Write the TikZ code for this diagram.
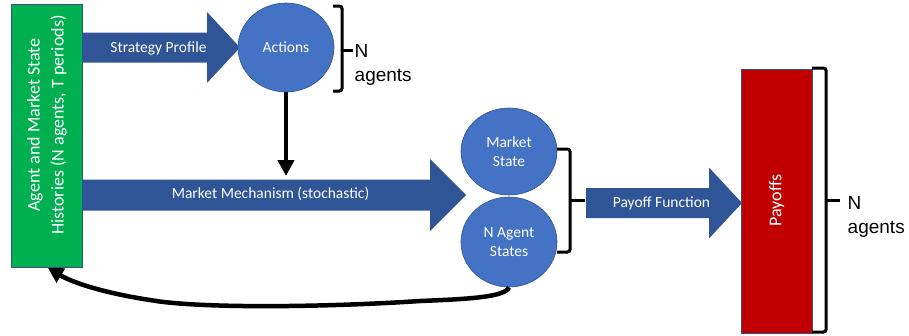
\documentclass[tikz,border=0pt]{standalone}
\usepackage{fontspec}
\setmainfont{Carlito}
\newfontfamily\arialfont{Liberation Sans}
\usetikzlibrary{shapes.geometric,arrows.meta}
\definecolor{histgreen}{HTML}{00B050}
\definecolor{payred}{HTML}{C00000}
\definecolor{flowblue}{HTML}{2F5597}
\definecolor{stateblue}{HTML}{4472C4}
\definecolor{edgeblue}{HTML}{2F528F}
% block arrow: tail x, head-base x, tip x, centre y, half body, half head
\newcommand\blockarrow[6]{%
  \fill[flowblue] (#1,#4-#5) -- (#2,#4-#5) -- (#2,#4-#6) -- (#3,#4)
    -- (#2,#4+#6) -- (#2,#4+#5) -- (#1,#4+#5) -- cycle;}
\begin{document}
\begin{tikzpicture}[x=1pt,y=-1pt,
  lbl/.style={text=white,font=\fontsize{15.5}{18}\selectfont,inner sep=0pt},
  state/.style={ellipse,fill=stateblue,draw=edgeblue,line width=0.6pt,
    inner sep=0pt,align=center,text=white,font=\fontsize{15.5}{19}\selectfont},
  panel/.style={draw=edgeblue,line width=0.6pt,inner sep=0pt},
  brace/.style={line width=3pt,rounded corners=2.5pt},
  count/.style={font=\arialfont\fontsize{19}{24}\selectfont,anchor=base west,inner sep=0pt}
]
\useasboundingbox (0,0) rectangle (909,335);

% history panel and payoff panel
\node[panel,fill=histgreen,minimum width=71pt,minimum height=263pt] (hist) at (46.5,135.5) {};
\node[rotate=90,align=center,text=white,font=\fontsize{18}{24}\selectfont,inner sep=0pt] (histtxt) at (47,125)
  {Agent and Market State\\Histories (N agents, T periods)};
\node[panel,fill=payred,minimum width=71pt,minimum height=264pt] (pay) at (776.5,201) {};
\node[rotate=90,text=white,font=\fontsize{18}{22}\selectfont,inner sep=0pt] (paytxt) at (776.5,200.5) {Payoffs};

% flow arrows
\blockarrow{82}{207}{240}{47.5}{15}{35.5}
\blockarrow{82}{430}{466}{195}{15.5}{36}
\blockarrow{586}{709}{742}{203}{15}{35.5}
\node[lbl] (strat) at (158.5,48) {Strategy Profile};
\node[lbl] (mech) at (270.5,194) {Market Mechanism (stochastic)};
\node[lbl] (payfn) at (661.5,203) {Payoff Function};

% states
\node[state,minimum width=96pt,minimum height=89pt] (act) at (286,47.5) {Actions};
\node[state,minimum width=96pt,minimum height=87pt] (mkt) at (509,151.5) {Market\\State};
\node[state,minimum width=96pt,minimum height=90pt] (ags) at (509,242) {N Agent\\States};

% actions feed the market mechanism
\coordinate (mechin) at (286,176);
\draw[line width=4pt,-{Triangle[length=16pt,width=16pt]}] (act.south) -- (mechin);

% agent states fed back into the histories
\coordinate (histin) at (48,268);
\draw[line width=4.5pt,-{Triangle[length=15pt,width=16pt]}]
  (ags.south) .. controls (505,297) and (470,299) .. (420,301)
  .. controls (330,307) and (200,309) .. (150,300)
  .. controls (110,294) and (75,284) .. (histin);

% braces
\draw[brace] (333,6) -- (342,6) -- (342,91) -- (333,91);
\draw[brace] (342,50) -- (353,50);
\draw[brace] (557,149) -- (570,149) -- (570,252) -- (557,252);
\draw[brace] (570,200) -- (585,200);
\draw[brace] (812,68) -- (826,68) -- (826,332) -- (812,332);
\draw[brace] (826,200) -- (840,200);

\node[count] (n1) at (354.5,57) {N};
\node[count] (a1) at (354.5,81) {agents};
\node[count] (n2) at (847.5,209) {N};
\node[count] (a2) at (847.5,233) {agents};
\end{tikzpicture}
\end{document}
